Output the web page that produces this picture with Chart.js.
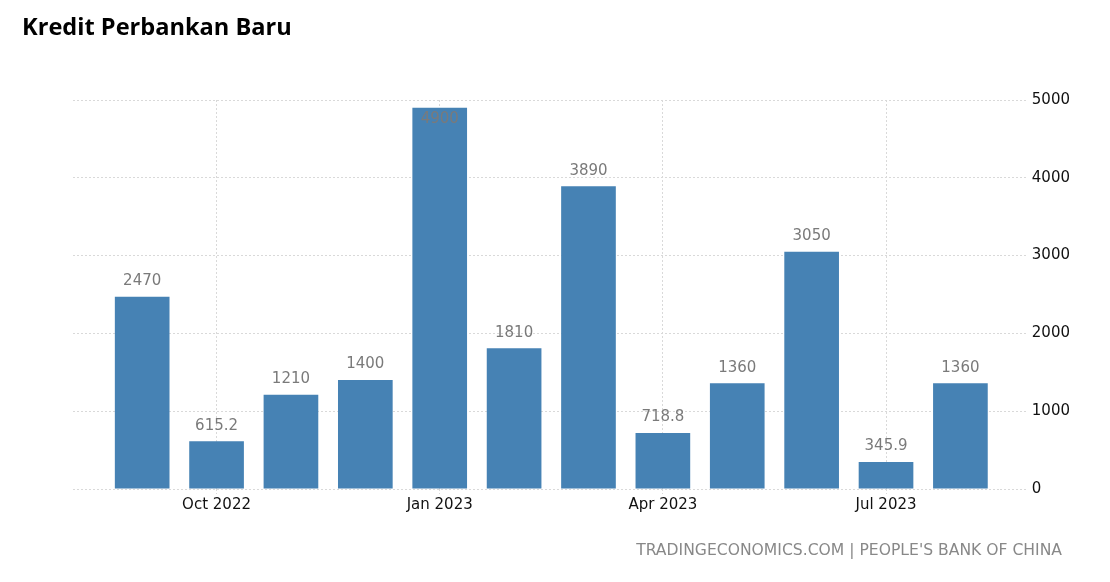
<html>
<head>
<meta charset="utf-8">
<script src="https://cdn.jsdelivr.net/npm/chart.js@4.4.0/dist/chart.umd.min.js"></script>
<style>
  body { margin:0; background:#fff; }
  #wrap { position:relative; width:1110px; height:582px; }
  #title { position:absolute; left:22px; top:10px; font-family:"Open Sans"; font-weight:700; font-size:23.6px; color:#000; }
  #src { position:absolute; right:48px; top:541px; font-family:"DejaVu Sans"; font-size:15.6px; color:#888; }
  canvas { position:absolute; left:0; top:0; }
</style>
</head>
<body>
<div id="wrap">
  <canvas id="myChart" width="1110" height="582"></canvas>
  <div id="title">Kredit Perbankan Baru</div>
  <div id="src">TRADINGECONOMICS.COM | PEOPLE'S BANK OF CHINA</div>
</div>
<script>
// monthly values, Sep 2022 .. Aug 2023
var months = ['Sep 2022','Oct 2022','Nov 2022','Dec 2022','Jan 2023','Feb 2023','Mar 2023','Apr 2023','May 2023','Jun 2023','Jul 2023','Aug 2023'];
var values = [2470, 615.2, 1210, 1400, 4900, 1810, 3890, 718.8, 1360, 3050, 345.9, 1360];
var labelledMonths = [1, 4, 7, 10]; // Oct, Jan, Apr, Jul
var yTicks = [0, 1000, 2000, 3000, 4000, 5000];

var barColor = '#4682b4';
var gridColor = '#d9d9d9';

// value labels over the bars
var valueLabels = {
  id: 'valueLabels',
  afterDatasetsDraw: function(chart){
    var ctx = chart.ctx;
    var meta = chart.getDatasetMeta(0);
    ctx.save();
    ctx.font = '15px "DejaVu Sans"';
    ctx.fillStyle = '#7a7a7a';
    ctx.textAlign = 'center';
    meta.data.forEach(function(bar, i){
      var txt = String(values[i]);
      if (bar.y - 28 < chart.chartArea.top) {
        ctx.textBaseline = 'top';
        ctx.fillText(txt, bar.x, bar.y + 4);
      } else {
        ctx.textBaseline = 'bottom';
        ctx.fillText(txt, bar.x, bar.y - 8);
      }
    });
    ctx.restore();
  }
};

var ctx = document.getElementById('myChart').getContext('2d');
var chart = new Chart(ctx, {
  type: 'bar',
  data: {
    datasets: [{
      data: values.map(function(v, i){ return {x: i, y: v}; }),
      backgroundColor: barColor,
      borderWidth: 0,
      categoryPercentage: 1,
      barPercentage: 0.735
    }]
  },
  options: {
    responsive: false,
    animation: false,
    layout: { padding: { left: 73, right: 36, top: 100, bottom: 66 } },
    plugins: { legend: { display: false }, tooltip: { enabled: false } },
    scales: {
      x: {
        type: 'linear',
        offset: false,
        bounds: 'ticks',
        min: -0.93,
        max: 11.53,
        afterBuildTicks: function(axis){
          axis.ticks = labelledMonths.map(function(v){ return {value: v}; });
        },
        ticks: {
          autoSkip: false,
          maxRotation: 0,
          color: '#111',
          font: { family: 'DejaVu Sans', size: 15 },
          padding: 2,
          callback: function(v){ return months[v]; }
        },
        grid: { offset: false, color: gridColor, tickLength: 5, tickColor: gridColor, tickBorderDash: [2, 2] },
        border: { display: false, dash: [2, 2] }
      },
      y: {
        position: 'right',
        min: 0,
        max: 5000,
        afterBuildTicks: function(axis){
          axis.ticks = yTicks.map(function(v){ return {value: v}; });
        },
        ticks: {
          color: '#111',
          font: { family: 'DejaVu Sans', size: 15 },
          padding: 4,
          callback: function(v){ return String(v); }
        },
        grid: { color: gridColor, tickLength: 28, tickColor: gridColor, tickBorderDash: [2, 2] },
        border: { display: false, dash: [2, 2] }
      }
    }
  },
  plugins: [valueLabels]
});
</script>
</body>
</html>
